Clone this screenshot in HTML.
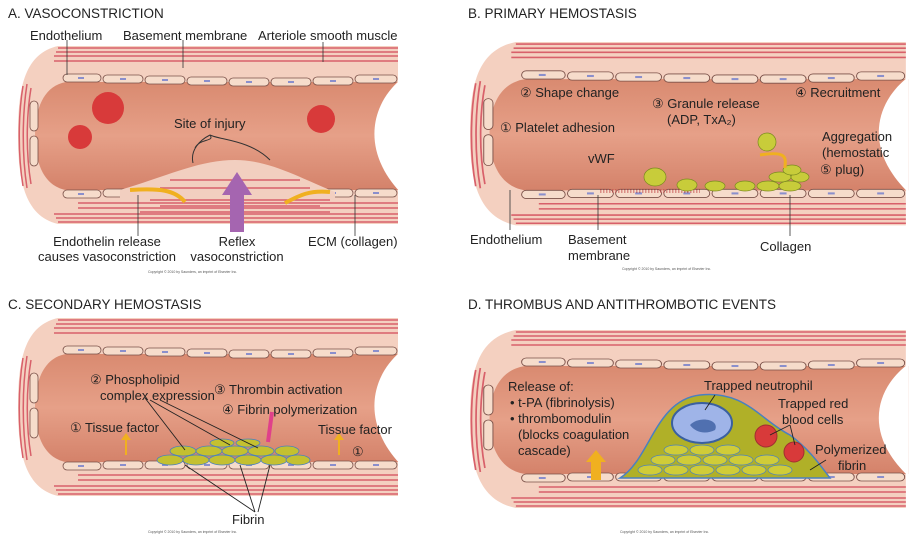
<!DOCTYPE html>
<html><head><meta charset="utf-8"><style>
html,body{margin:0;padding:0;background:#fff;}
svg{display:block;font-family:"Liberation Sans",sans-serif;}
.t{font-size:13px;fill:#222;}
.h{font-size:13.5px;fill:#222;}
.c{font-size:3.5px;fill:#555;}
</style></head><body>
<svg width="912" height="536" viewBox="0 0 912 536" xmlns="http://www.w3.org/2000/svg">
<defs>
<linearGradient id="lg" x1="0" y1="0" x2="0" y2="1">
<stop offset="0" stop-color="#d98a70"/><stop offset="0.5" stop-color="#e6a088"/><stop offset="1" stop-color="#d4826a"/></linearGradient>
<g id="v">
<path d="M40,0 H380 V178 H40 C5,170 0,130 0,89 C0,45 5,8 40,0 Z" fill="#f4d0c0"/>
<g stroke="#d8606a" stroke-width="1.5" fill="none">
<path d="M40,2 H380 M38,6 H380 M36,10 H380 M36,15 H380"/>
<path d="M40,176 H380 M38,172 H380 M36,168 H380 M60,162 H380 M60,157 H380"/>
<path d="M5,40 C0,70 0,110 5,140 M9,38 C4,70 4,110 9,142 M13,42 C8,72 8,108 13,138"/>
</g>
<path d="M48,36 H382 V144 H48 C25,140 17,115 17,90 C17,64 25,40 48,36 Z" fill="url(#lg)"/>
<path d="M382,34 C352,60 344,105 382,146 Z" fill="#fff"/>
<g fill="#f6dccb" stroke="#7a5048" stroke-width="0.8">
<rect x="45" y="28" width="38" height="8" rx="4"/><rect x="85" y="29" width="40" height="8" rx="4"/><rect x="127" y="30" width="40" height="8" rx="4"/><rect x="169" y="31" width="40" height="8" rx="4"/><rect x="211" y="32" width="40" height="8" rx="4"/><rect x="253" y="32" width="40" height="8" rx="4"/><rect x="295" y="31" width="40" height="8" rx="4"/><rect x="337" y="29" width="42" height="8" rx="4"/>
<rect x="45" y="144" width="38" height="8" rx="4"/><rect x="85" y="143" width="40" height="8" rx="4"/><rect x="127" y="143" width="40" height="8" rx="4"/><rect x="169" y="143" width="40" height="8" rx="4"/><rect x="211" y="143" width="40" height="8" rx="4"/><rect x="253" y="143" width="40" height="8" rx="4"/><rect x="295" y="143" width="40" height="8" rx="4"/><rect x="337" y="143" width="42" height="8" rx="4"/>
<rect x="12" y="55" width="8" height="30" rx="4"/><rect x="12" y="90" width="8" height="30" rx="4"/>
</g>
<g fill="#8a8fcc">
<rect x="60" y="31" width="6" height="2"/><rect x="102" y="32" width="6" height="2"/><rect x="144" y="33" width="6" height="2"/><rect x="186" y="34" width="6" height="2"/><rect x="228" y="35" width="6" height="2"/><rect x="270" y="35" width="6" height="2"/><rect x="312" y="34" width="6" height="2"/><rect x="355" y="32" width="6" height="2"/>
<rect x="60" y="147" width="6" height="2"/><rect x="102" y="146" width="6" height="2"/><rect x="144" y="146" width="6" height="2"/><rect x="186" y="146" width="6" height="2"/><rect x="228" y="146" width="6" height="2"/><rect x="270" y="146" width="6" height="2"/><rect x="312" y="146" width="6" height="2"/><rect x="355" y="146" width="6" height="2"/>
</g>
</g>
</defs>

<!-- A -->
<text class="h" x="8" y="18">A. VASOCONSTRICTION</text>
<use href="#v" transform="translate(18,46)"/>
<path d="M120,190 C170,175 200,160 235,160 C270,160 300,178 335,192 L335,200 L120,200 Z" fill="#f2cfc0"/>
<g stroke="#d8606a" stroke-width="1.5"><path d="M150,200 H330 M160,206 H320 M140,212 H330 M170,180 H300 M160,188 H310"/></g>
<circle cx="108" cy="108" r="16" fill="#d83a3a"/><circle cx="80" cy="137" r="12" fill="#d83a3a"/><circle cx="321" cy="119" r="14" fill="#d83a3a"/>
<path d="M230,232 V195 H222 L237,172 L252,195 H244 V232 Z" fill="#a565b0"/>
<path d="M130,190 C160,188 175,190 185,202" stroke="#f0b020" stroke-width="4" fill="none"/>
<path d="M330,192 C310,190 300,195 285,203" stroke="#f0b020" stroke-width="4" fill="none"/>
<path d="M195,148 C200,138 215,142 210,135 C220,140 250,140 270,160 M210,135 C200,140 190,150 193,163" stroke="#333" fill="none"/>
<text class="t" x="174" y="128">Site of injury</text>
<path d="M67,40 V75 M183,40 V68 M323,42 V62 M138,195 V236 M355,195 V236" stroke="#333" stroke-width="0.8"/>
<text class="t" x="30" y="40">Endothelium</text>
<text class="t" x="123" y="40">Basement membrane</text>
<text class="t" x="258" y="40">Arteriole smooth muscle</text>
<text class="t" x="107" y="246" text-anchor="middle">Endothelin release</text>
<text class="t" x="107" y="261" text-anchor="middle">causes vasoconstriction</text>
<text class="t" x="237" y="246" text-anchor="middle">Reflex</text>
<text class="t" x="237" y="261" text-anchor="middle">vasoconstriction</text>
<text class="t" x="308" y="246">ECM (collagen)</text>
<text class="c" x="148" y="273">Copyright © 2010 by Saunders, an imprint of Elsevier Inc.</text>

<!-- B -->
<text class="h" x="468" y="18">B. PRIMARY HEMOSTASIS</text>
<use href="#v" transform="translate(470,42) scale(1.147,1.03)"/>
<path d="M600,190 H700 M600,192 H700" stroke="#c04040" stroke-dasharray="1.5,1.5"/>
<g fill="#c8cc3a" stroke="#7a8a20" stroke-width="0.7">
<ellipse cx="655" cy="177" rx="11" ry="9"/><ellipse cx="687" cy="185" rx="10" ry="6"/><ellipse cx="715" cy="186" rx="10" ry="5"/><ellipse cx="745" cy="186" rx="10" ry="5"/>
<ellipse cx="768" cy="186" rx="11" ry="5"/><ellipse cx="790" cy="186" rx="11" ry="5"/><ellipse cx="780" cy="177" rx="11" ry="5"/><ellipse cx="800" cy="177" rx="9" ry="5"/><ellipse cx="792" cy="170" rx="9" ry="5"/>
<circle cx="767" cy="142" r="9"/>
</g>
<path d="M760,155 C790,150 785,160 785,168" stroke="#f0b020" stroke-width="3" fill="none"/>
<text class="t" x="520" y="97">② Shape change</text>
<text class="t" x="652" y="108">③ Granule release</text>
<text class="t" x="667" y="124">(ADP, TxA₂)</text>
<text class="t" x="795" y="97">④ Recruitment</text>
<text class="t" x="500" y="132">① Platelet adhesion</text>
<text class="t" x="588" y="163">vWF</text>
<text class="t" x="822" y="141">Aggregation</text>
<text class="t" x="822" y="157">(hemostatic</text>
<text class="t" x="820" y="174">⑤ plug)</text>
<path d="M510,190 V230 M598,195 V230 M790,195 V236" stroke="#333" stroke-width="0.8"/>
<text class="t" x="470" y="244">Endothelium</text>
<text class="t" x="568" y="244">Basement</text>
<text class="t" x="568" y="260">membrane</text>
<text class="t" x="760" y="251">Collagen</text>
<text class="c" x="622" y="270">Copyright © 2010 by Saunders, an imprint of Elsevier Inc.</text>

<!-- C -->
<text class="h" x="8" y="309">C. SECONDARY HEMOSTASIS</text>
<use href="#v" transform="translate(18,318)"/>
<g fill="#c4c030" stroke="#4a80c0" stroke-width="0.8">
<ellipse cx="170" cy="460" rx="13" ry="5"/><ellipse cx="196" cy="460" rx="13" ry="5"/><ellipse cx="222" cy="460" rx="13" ry="5"/><ellipse cx="248" cy="460" rx="13" ry="5"/><ellipse cx="274" cy="460" rx="13" ry="5"/><ellipse cx="298" cy="460" rx="12" ry="5"/>
<ellipse cx="183" cy="451" rx="13" ry="5"/><ellipse cx="209" cy="451" rx="13" ry="5"/><ellipse cx="235" cy="451" rx="13" ry="5"/><ellipse cx="261" cy="451" rx="13" ry="5"/><ellipse cx="287" cy="451" rx="12" ry="5"/>
<ellipse cx="222" cy="443" rx="12" ry="4"/><ellipse cx="248" cy="443" rx="12" ry="4"/>
</g>
<path d="M125,455 V440 H121 L126,433 L131,440 H127 V455 Z M338,455 V440 H334 L339,433 L344,440 H340 V455 Z" fill="#f0b020"/>
<path d="M272,412 L268,442" stroke="#e0408a" stroke-width="4"/>
<path d="M145,398 L185,450 M150,400 L230,445 M160,400 L258,448 M255,512 L185,465 M255,512 L240,465 M258,512 L270,465" stroke="#222" stroke-width="0.9"/>
<text class="t" x="90" y="384">② Phospholipid</text>
<text class="t" x="100" y="400">complex expression</text>
<text class="t" x="214" y="394">③ Thrombin activation</text>
<text class="t" x="222" y="414">④ Fibrin polymerization</text>
<text class="t" x="70" y="432">① Tissue factor</text>
<text class="t" x="318" y="434">Tissue factor</text>
<text class="t" x="352" y="456">①</text>
<text class="t" x="232" y="524">Fibrin</text>
<text class="c" x="148" y="533">Copyright © 2010 by Saunders, an imprint of Elsevier Inc.</text>

<!-- D -->
<text class="h" x="468" y="309">D. THROMBUS AND ANTITHROMBOTIC EVENTS</text>
<use href="#v" transform="translate(470,330) scale(1.147,1.0)"/>
<path d="M620,478 C650,460 655,400 700,395 C745,390 760,420 790,435 C810,450 820,465 830,478 Z" fill="#b0b028" stroke="#4a80c0" stroke-width="1.5"/>
<g fill="#d0cc38" stroke="#4a80c0" stroke-width="0.7">
<ellipse cx="650" cy="470" rx="12" ry="5"/><ellipse cx="676" cy="470" rx="12" ry="5"/><ellipse cx="702" cy="470" rx="12" ry="5"/><ellipse cx="728" cy="470" rx="12" ry="5"/><ellipse cx="754" cy="470" rx="12" ry="5"/><ellipse cx="780" cy="470" rx="12" ry="5"/>
<ellipse cx="663" cy="460" rx="12" ry="5"/><ellipse cx="689" cy="460" rx="12" ry="5"/><ellipse cx="715" cy="460" rx="12" ry="5"/><ellipse cx="741" cy="460" rx="12" ry="5"/><ellipse cx="767" cy="460" rx="12" ry="5"/>
<ellipse cx="676" cy="450" rx="12" ry="5"/><ellipse cx="702" cy="450" rx="12" ry="5"/><ellipse cx="728" cy="450" rx="12" ry="5"/>
</g>
<ellipse cx="702" cy="423" rx="30" ry="20" fill="#9fb4e8" stroke="#3a60a0" stroke-width="2"/>
<path d="M690,425 C700,415 720,420 715,430 C705,435 695,432 690,425 Z" fill="#5070b0"/>
<circle cx="766" cy="436" r="11" fill="#d83a3a" stroke="#a03030"/><circle cx="794" cy="452" r="10" fill="#d83a3a" stroke="#a03030"/>
<path d="M591,480 V462 H586 L596,450 L606,462 H601 V480 Z" fill="#f0b020"/>
<path d="M715,395 L705,410 M790,425 L770,435 M790,425 L795,445 M826,460 L810,470" stroke="#222" stroke-width="0.9"/>
<text class="t" x="508" y="391">Release of:</text>
<text class="t" x="510" y="407">• t-PA (fibrinolysis)</text>
<text class="t" x="510" y="423">• thrombomodulin</text>
<text class="t" x="518" y="439">(blocks coagulation</text>
<text class="t" x="518" y="455">cascade)</text>
<text class="t" x="704" y="390">Trapped neutrophil</text>
<text class="t" x="778" y="408">Trapped red</text>
<text class="t" x="782" y="424">blood cells</text>
<text class="t" x="815" y="454">Polymerized</text>
<text class="t" x="838" y="470">fibrin</text>
<text class="c" x="620" y="533">Copyright © 2010 by Saunders, an imprint of Elsevier Inc.</text>
</svg>
</body></html>
